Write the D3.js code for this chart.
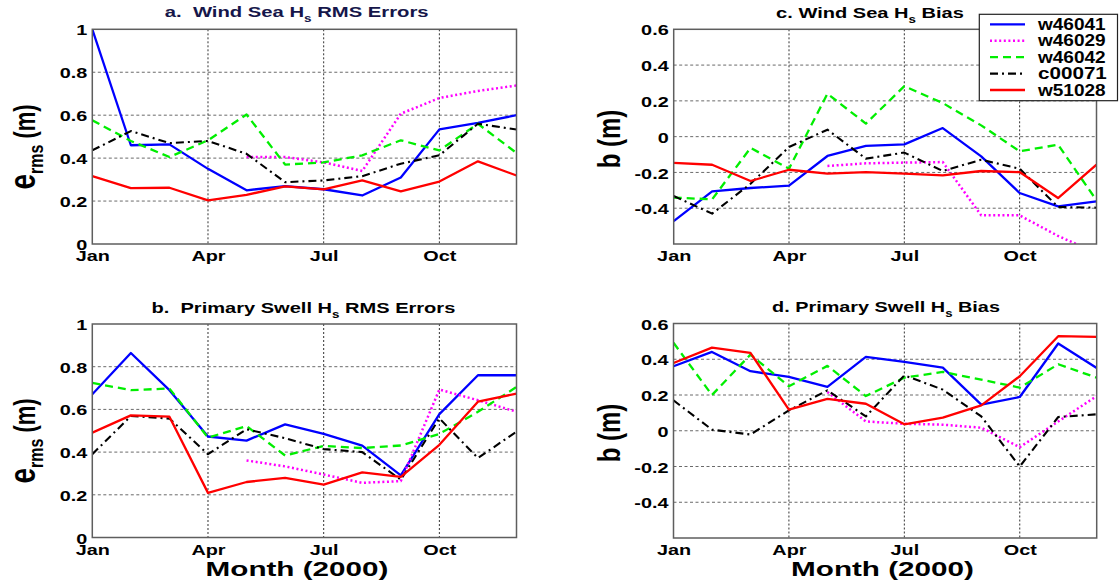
<!DOCTYPE html>
<html>
<head>
<meta charset="utf-8">
<script src="https://cdn.jsdelivr.net/npm/d3@7"></script>
<style>
  html, body { margin: 0; padding: 0; background: #fff; }
  svg { display: block; }
  text { font-family: "Liberation Sans", Arial, Helvetica, sans-serif; font-weight: bold; white-space: pre; }
</style>
</head>
<body>
<svg id="chart" width="1119" height="586"></svg>
<script>
// ---------------- DATA ----------------
const months = ["Jan","Feb","Mar","Apr","May","Jun","Jul","Aug","Sep","Oct","Nov","Dec"];
const xTickMonths = ["Jan","Apr","Jul","Oct"];
const stations = ["w46041","w46029","w46042","c00071","w51028"];
const rmsTicks = [0, 0.2, 0.4, 0.6, 0.8, 1];
const rmsTickLabels = ["0","0.2","0.4","0.6","0.8","1"];
const biasTicks = [-0.4, -0.2, 0, 0.2, 0.4, 0.6];
const biasTickLabels = ["-0.4","-0.2","0","0.2","0.4","0.6"];

// a. Wind Sea Hs RMS Errors
const windRms_w46041 = [1.0, 0.46, 0.464, 0.35, 0.25, 0.27, 0.255, 0.226, 0.31, 0.534, 0.564, 0.60];
const windRms_w46029 = [null, null, null, null, 0.405, 0.405, 0.38, 0.34, 0.607, 0.68, 0.713, 0.738];
const windRms_w46042 = [0.576, 0.48, 0.405, 0.483, 0.603, 0.37, 0.38, 0.413, 0.483, 0.436, 0.56, 0.424];
const windRms_c00071 = [0.436, 0.526, 0.47, 0.48, 0.42, 0.288, 0.296, 0.316, 0.374, 0.413, 0.56, 0.533];
const windRms_w51028 = [0.316, 0.26, 0.262, 0.203, 0.229, 0.268, 0.254, 0.296, 0.245, 0.291, 0.385, 0.319];

// b. Primary Swell Hs RMS Errors
const swellRms_w46041 = [0.671, 0.864, 0.69, 0.473, 0.454, 0.53, 0.485, 0.43, 0.291, 0.578, 0.76, 0.76];
const swellRms_w46029 = [null, null, null, null, 0.361, 0.333, 0.295, 0.256, 0.264, 0.693, 0.643, 0.589];
const swellRms_w46042 = [0.724, 0.69, 0.698, 0.468, 0.522, 0.384, 0.429, 0.419, 0.431, 0.485, 0.589, 0.705];
const swellRms_c00071 = [0.39, 0.569, 0.557, 0.39, 0.507, 0.465, 0.414, 0.4, 0.271, 0.558, 0.372, 0.496];
const swellRms_w51028 = [0.491, 0.572, 0.566, 0.209, 0.26, 0.279, 0.248, 0.305, 0.284, 0.434, 0.636, 0.674];

// c. Wind Sea Hs Bias
const windBias_w46041 = [-0.472, -0.306, -0.287, -0.274, -0.108, -0.052, -0.043, 0.048, -0.11, -0.315, -0.39, -0.362];
const windBias_w46029 = [null, null, null, null, -0.164, -0.149, -0.145, -0.142, -0.44, -0.44, -0.555, -0.65];
const windBias_w46042 = [-0.341, -0.35, -0.063, -0.179, 0.24, 0.073, 0.282, 0.188, 0.063, -0.082, -0.045, -0.356];
const windBias_c00071 = [-0.332, -0.43, -0.263, -0.058, 0.039, -0.123, -0.089, -0.192, -0.129, -0.179, -0.393, -0.397];
const windBias_w51028 = [-0.147, -0.157, -0.248, -0.185, -0.207, -0.198, -0.207, -0.216, -0.192, -0.198, -0.343, -0.157];

// d. Primary Swell Hs Bias
const swellBias_w46041 = [0.361, 0.441, 0.333, 0.301, 0.245, 0.413, 0.385, 0.353, 0.146, 0.189, 0.488, 0.351];
const swellBias_w46029 = [null, null, null, null, 0.217, 0.052, 0.039, 0.034, 0.017, -0.092, 0.052, 0.194];
const swellBias_w46042 = [0.492, 0.2, 0.426, 0.249, 0.363, 0.194, 0.297, 0.329, 0.286, 0.241, 0.372, 0.297];
const swellBias_c00071 = [0.17, 0.006, -0.021, 0.114, 0.226, 0.08, 0.31, 0.23, 0.08, -0.2, 0.077, 0.092];
const swellBias_w51028 = [0.379, 0.465, 0.436, 0.118, 0.178, 0.151, 0.036, 0.073, 0.142, 0.305, 0.529, 0.525];

// ---------------- STYLE / LAYOUT ----------------
const styles = {
  w46041: { color: "#0000ff", dash: null, width: 2.3 },
  w46029: { color: "#ff00ff", dash: "2,2.6", width: 2.5 },
  w46042: { color: "#00ee00", dash: "8,5", width: 2.3 },
  c00071: { color: "#000000", dash: "8,4,2,4", width: 2.1 },
  w51028: { color: "#ff0000", dash: null, width: 2.3 }
};
const TICK_SX = 1.28;

const panels = [
  { id: "a", box: [92.3, 29.3, 516.5, 244], domain: [0, 1], ticks: rmsTicks, tickLabels: rmsTickLabels,
    series: [windRms_w46041, windRms_w46029, windRms_w46042, windRms_c00071, windRms_w51028],
    title: ["a.  Wind Sea H", "s", " RMS Errors"], titleX: 296.7, titleY: 17, titleW: 264, titleColor: "#16164a",
    ylabel: "rms", ylabX: 35, ylabY: 147, xlabel: false },
  { id: "b", box: [92.3, 324, 516.5, 537.5], domain: [0, 1], ticks: rmsTicks, tickLabels: rmsTickLabels,
    series: [swellRms_w46041, swellRms_w46029, swellRms_w46042, swellRms_c00071, swellRms_w51028],
    title: ["b.  Primary Swell H", "s", " RMS Errors"], titleX: 303.4, titleY: 313, titleW: 304, titleColor: "#000",
    ylabel: "rms", ylabX: 35, ylabY: 441, xlabel: true, xlabX: 297 },
  { id: "c", box: [673.7, 29.3, 1096.5, 244], domain: [-0.6, 0.6], ticks: biasTicks, tickLabels: biasTickLabels,
    series: [windBias_w46041, windBias_w46029, windBias_w46042, windBias_c00071, windBias_w51028],
    title: ["c. Wind Sea H", "s", " Bias"], titleX: 870, titleY: 18, titleW: 188, titleColor: "#000",
    ylabel: "b", ylabX: 620, ylabY: 139, xlabel: false },
  { id: "d", box: [673.5, 323.5, 1096.7, 538], domain: [-0.6, 0.6], ticks: biasTicks, tickLabels: biasTickLabels,
    series: [swellBias_w46041, swellBias_w46029, swellBias_w46042, swellBias_c00071, swellBias_w51028],
    title: ["d. Primary Swell H", "s", " Bias"], titleX: 886, titleY: 312, titleW: 228, titleColor: "#000",
    ylabel: "b", ylabX: 620, ylabY: 433, xlabel: true, xlabX: 882.5 }
];

const svg = d3.select("#chart");

function fitWidth(text, target) {
  const w = text.node().getBBox().width;
  return target / w;
}

panels.forEach((p) => {
  const [x0, y0, x1, y1] = p.box;
  const x = d3.scaleLinear().domain([0, 11]).range([x0, x1]);
  const y = d3.scaleLinear().domain(p.domain).range([y1, y0]);

  const clipId = "clip-" + p.id;
  svg.append("clipPath").attr("id", clipId)
    .append("rect").attr("x", x0).attr("y", y0).attr("width", x1 - x0).attr("height", y1 - y0);

  // grid lines
  const grid = svg.append("g");
  grid.selectAll("line.h").data(p.ticks.filter(t => t > p.domain[0] && t < p.domain[1]))
    .join("line")
    .attr("x1", x0).attr("x2", x1)
    .attr("y1", d => y(d)).attr("y2", d => y(d))
    .attr("stroke", "#6a6a6a").attr("stroke-width", 1).attr("stroke-dasharray", "3,2.5");
  grid.selectAll("line.v").data(xTickMonths.map(m => months.indexOf(m)).filter(i => i > 0))
    .join("line")
    .attr("x1", d => x(d)).attr("x2", d => x(d))
    .attr("y1", y0).attr("y2", y1)
    .attr("stroke", "#333").attr("stroke-width", 1).attr("stroke-dasharray", "2,2");

  // y axis
  const yAxis = d3.axisLeft(y).tickValues(p.ticks).tickSize(0).tickFormat((d, i) => p.tickLabels[i]);
  const ya = svg.append("g").attr("transform", `translate(${x0},0)`).call(yAxis);
  ya.select(".domain").remove();
  ya.attr("font-family", null).attr("font-size", null);
  ya.selectAll(".tick text")
    .attr("x", 0).attr("dy", "0.36em")
    .attr("transform", `translate(-5,0) scale(${TICK_SX},1)`)
    .attr("font-size", 15.5).attr("fill", "#000").attr("text-anchor", "end");

  // x axis
  const xAxis = d3.axisBottom(x).tickValues(xTickMonths.map(m => months.indexOf(m))).tickSize(0)
    .tickFormat(d => months[d]);
  const xa = svg.append("g").attr("transform", `translate(0,${y1})`).call(xAxis);
  xa.select(".domain").remove();
  xa.attr("font-family", null).attr("font-size", null);
  xa.selectAll(".tick text")
    .attr("y", 0).attr("dy", 0)
    .attr("transform", `translate(0,17) scale(${TICK_SX},1)`)
    .attr("font-size", 15.5).attr("fill", "#000");

  // series lines
  const line = d3.line()
    .defined(d => d != null)
    .x((d, i) => x(i))
    .y(d => y(d));
  const lg = svg.append("g").attr("clip-path", `url(#${clipId})`);
  p.series.forEach((vals, si) => {
    const st = styles[stations[si]];
    lg.append("path")
      .attr("d", line(vals))
      .attr("fill", "none")
      .attr("stroke", st.color)
      .attr("stroke-width", st.width)
      .attr("stroke-dasharray", st.dash)
      .attr("stroke-linejoin", "round");
  });

  // frame
  svg.append("rect").attr("x", x0).attr("y", y0).attr("width", x1 - x0).attr("height", y1 - y0)
    .attr("fill", "none").attr("stroke", "#5e5e5e").attr("stroke-width", 1.5);

  // title
  const tg = svg.append("g").attr("transform", `translate(${p.titleX},${p.titleY})`);
  const tt = tg.append("text").attr("text-anchor", "middle").attr("font-size", 15).attr("fill", p.titleColor);
  tt.append("tspan").text(p.title[0]);
  tt.append("tspan").text(p.title[1]).attr("font-size", 10).attr("dy", 5);
  tt.append("tspan").text(p.title[2]).attr("font-size", 15).attr("dy", -5);
  tt.attr("transform", `scale(${fitWidth(tt, p.titleW)},1)`);

  // y label
  const yg = svg.append("g").attr("transform", `translate(${p.ylabX},${p.ylabY}) scale(1.3,1) rotate(-90)`);
  const yt = yg.append("text").attr("text-anchor", "middle").attr("font-size", 22).attr("fill", "#000");
  if (p.ylabel === "rms") {
    yt.append("tspan").text("e").attr("font-size", 28);
    yt.append("tspan").text("rms").attr("font-size", 16).attr("dy", 6);
    yt.append("tspan").text(" (m)").attr("dy", -6);
  } else {
    yt.attr("font-size", 24).text("b (m)");
  }

  // x label
  if (p.xlabel) {
    const xg = svg.append("g").attr("transform", `translate(${p.xlabX},576)`);
    const xt = xg.append("text").attr("text-anchor", "middle").attr("font-size", 21).attr("fill", "#000")
      .text("Month (2000)");
    xt.attr("transform", `scale(${fitWidth(xt, 183)},1)`);
  }
});

// legend
const legX0 = 979.3, legY0 = 14.3, legX1 = 1117.5, legY1 = 100.7;
const leg = svg.append("g");
leg.append("rect").attr("x", legX0).attr("y", legY0).attr("width", legX1 - legX0).attr("height", legY1 - legY0)
  .attr("fill", "#fff").attr("stroke", "#222").attr("stroke-width", 1.2);
const legRow = d3.scaleLinear().domain([0, 4]).range([24.4, 90]);
stations.forEach((s, i) => {
  const st = styles[s];
  const ry = legRow(i);
  leg.append("line").attr("x1", 990).attr("x2", 1025).attr("y1", ry).attr("y2", ry)
    .attr("stroke", st.color).attr("stroke-width", st.width).attr("stroke-dasharray", st.dash);
  const g = leg.append("g").attr("transform", `translate(1038,${ry + 5.5})`);
  const t = g.append("text").attr("font-size", 16).attr("fill", "#000").text(s);
  t.attr("transform", `scale(${fitWidth(t, 69)},1)`);
});
</script>
</body>
</html>
